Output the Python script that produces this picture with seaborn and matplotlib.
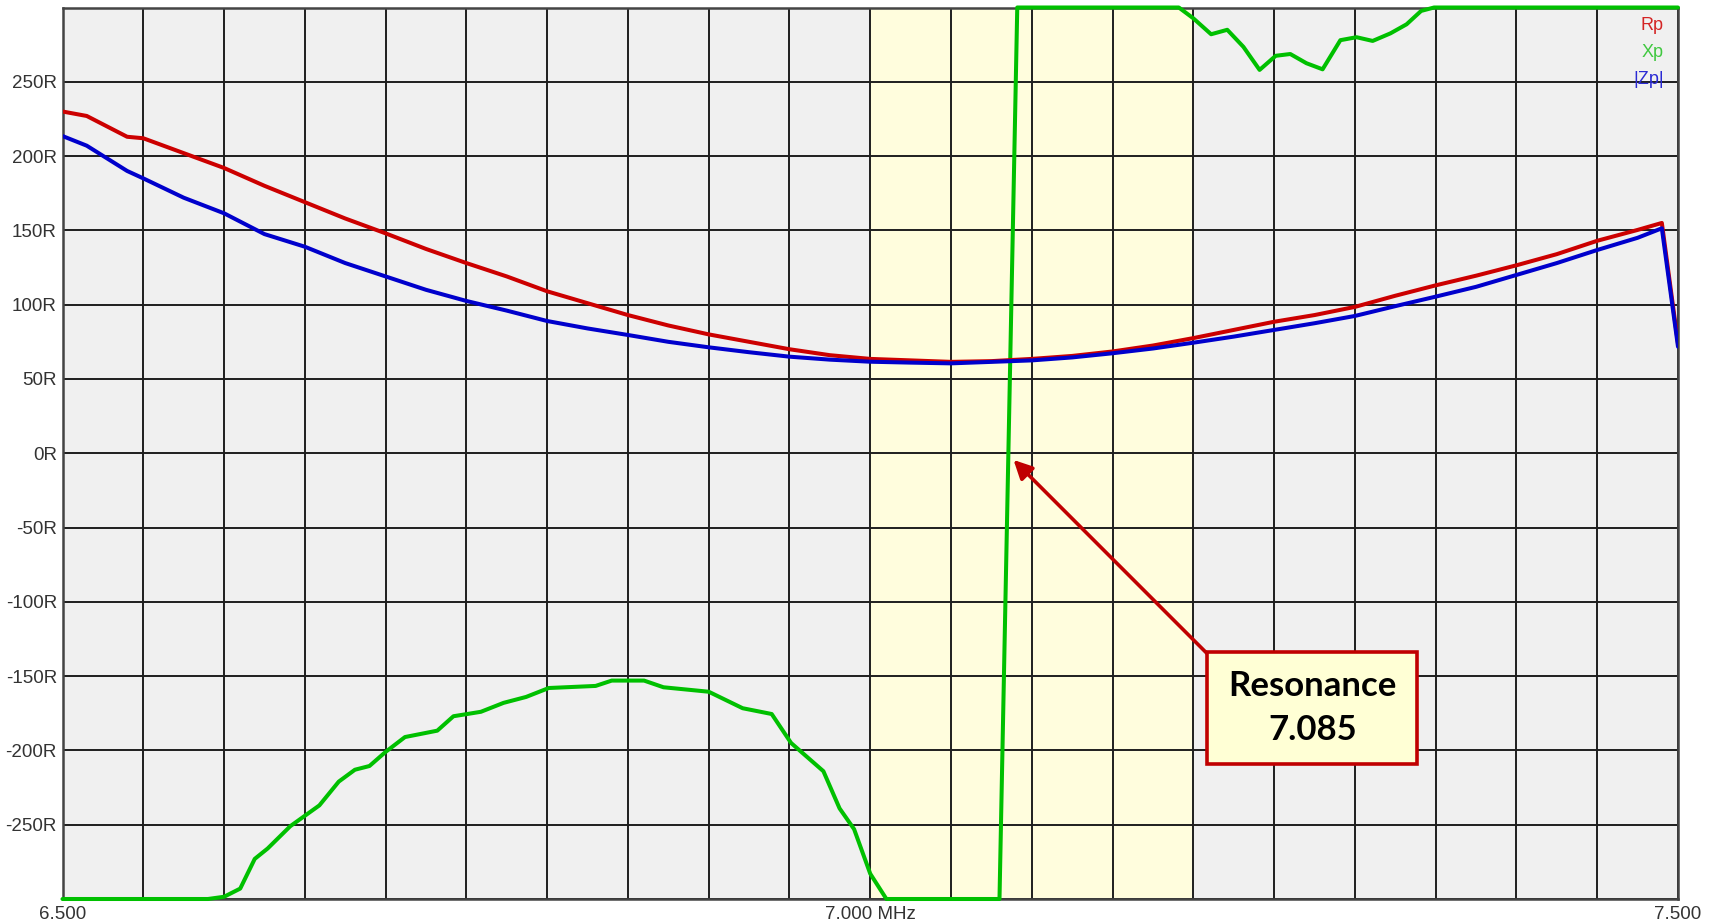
import numpy as np
import matplotlib
matplotlib.use("Agg")
import matplotlib.pyplot as plt
import seaborn as sns
from matplotlib.patches import Rectangle

# =========================
# DATA (read off the analyser sweep)
# =========================
# Rp and |Zp| share one frequency grid (MHz)
freq_rz = [6.500, 6.515, 6.540, 6.550, 6.575, 6.600, 6.625, 6.650, 6.675, 6.700, 6.725,
           6.750, 6.775, 6.800, 6.825, 6.850, 6.875, 6.900, 6.925, 6.950, 6.975,
           7.000, 7.025, 7.050, 7.075, 7.100, 7.125, 7.150, 7.175, 7.200, 7.225,
           7.250, 7.275, 7.300, 7.325, 7.350, 7.375, 7.400, 7.425, 7.450, 7.475,
           7.490, 7.500]
rp = [230, 227, 213, 212, 202, 192, 180, 169, 158, 148, 137.5,
      128, 119, 109, 101, 93, 86, 80, 75, 70, 66,
      63.5, 62.5, 61.5, 62, 63.5, 65.5, 68.5, 72.5, 77.5, 83,
      88.5, 93, 98.5, 106, 113, 119.5, 126.5, 134, 143, 150.3,
      155, 74]
zp = [213.5, 207, 190, 185, 172, 161.5, 147.5, 139, 128, 119, 110,
      102.5, 96, 89, 84, 79.6, 75, 71.3, 68, 65, 63,
      61.6, 61, 60.5, 61.5, 62.5, 64.5, 67.3, 70.5, 74.4, 78.5,
      83, 87.5, 92.4, 99, 105.4, 112, 120, 128, 136.8, 145,
      151.4, 71.7]

# Xp is clipped at the +/-300R scale limits
freq_x = [6.500, 6.590, 6.600, 6.610, 6.619, 6.627, 6.641, 6.659, 6.671, 6.681,
          6.690, 6.700, 6.712, 6.732, 6.742, 6.759, 6.773, 6.787, 6.801, 6.830,
          6.840, 6.860, 6.872, 6.900, 6.921, 6.939, 6.951, 6.971, 6.981, 6.990,
          7.000, 7.010, 7.080, 7.091, 7.191, 7.200, 7.211, 7.221, 7.231, 7.241,
          7.251, 7.260, 7.270, 7.280, 7.291, 7.301, 7.311, 7.322, 7.332, 7.341,
          7.349, 7.500]
xp = [-300, -300, -298.5, -293, -273, -266, -251, -237, -221, -213,
      -210.5, -201, -191, -186.7, -177, -174, -168, -164, -158, -156.6,
      -153, -153, -157.5, -160.5, -171.6, -175.5, -195, -214, -239, -253,
      -283, -300, -300, 300, 300, 292.7, 282, 285, 273.5, 258,
      267.5, 268.7, 262.5, 258.4, 278, 280, 277.5, 282.6, 288.7, 297.7,
      300, 300]

series_names = ["Rp", "Xp", "|Zp|"]
band = (7.0, 7.2)
resonance = 7.085

x_ticks = np.round(np.arange(6.5, 7.5001, 0.05), 3)
x_labels = {6.5: "6.500", 7.0: "7.000 MHz", 7.5: "7.500"}
y_ticks = np.arange(-300, 301, 50)

RED = "#CC0000"
GREEN = "#00C000"
BLUE = "#0000CC"
LEGEND_COLORS = ["#D42424", "#40C840", "#2A2AD4"]

# =========================
# Style
# =========================
sns.set_style("whitegrid", {
    "axes.facecolor": "#F0F0F0",
    "grid.color": "#222222",
    "axes.edgecolor": "#444444",
})
plt.rcParams["font.family"] = ["Liberation Sans", "DejaVu Sans"]

fig = plt.figure(figsize=(17.09, 9.23), dpi=100)
ax = fig.add_axes([62.5 / 1709, 1 - 899 / 923, 1615.5 / 1709, 891.5 / 923])

ax.axvspan(band[0], band[1], color="#FFFDDD", zorder=0.2, lw=0)

sns.lineplot(x=freq_x, y=xp, color=GREEN, lw=2.9, ax=ax, estimator=None,
             sort=False, clip_on=False, zorder=3)
sns.lineplot(x=freq_rz, y=rp, color=RED, lw=2.9, ax=ax, estimator=None,
             sort=False, zorder=4)
sns.lineplot(x=freq_rz, y=zp, color=BLUE, lw=2.9, ax=ax, estimator=None,
             sort=False, zorder=5)

ax.set_xlim(6.5, 7.5)
ax.set_ylim(-300, 300)
ax.set_xticks(x_ticks)
ax.set_xticklabels([x_labels.get(round(t, 3), "") for t in x_ticks])
ax.set_yticks(y_ticks)
ax.set_yticklabels(["" if abs(v) == 300 else f"{v}R" for v in y_ticks])
ax.tick_params(axis="both", length=0, labelsize=13.5, labelcolor="#333333")
ax.tick_params(axis="x", pad=5)
ax.tick_params(axis="y", pad=4)
ax.grid(True, lw=1.4, color="#1E1E1E")
ax.set_axisbelow(True)
for s in ax.spines.values():
    s.set_linewidth(1.8)
    s.set_color("#444444")
ax.set_xlabel("")
ax.set_ylabel("")

# legend as coloured labels in the top-right corner
for i, (name, col) in enumerate(zip(series_names, LEGEND_COLORS)):
    ax.text(0.9913, 0.980 - i * 0.0305, name, transform=ax.transAxes,
            ha="right", va="center", fontsize=13, color=col, zorder=6)

# resonance callout
ax.annotate("", xy=(7.0887, -4.5), xytext=(7.2087, -135),
            arrowprops=dict(arrowstyle="-|>", mutation_scale=28, lw=2.6,
                            color="#C00000", shrinkA=0, shrinkB=0),
            zorder=7)
ax.add_patch(Rectangle((7.2087, -209.1), 0.1298, 75.1, facecolor="#FFFFD5",
                       edgecolor="#C00000", lw=2.6, zorder=8))
ax.text(7.2736, -171.6, f"Resonance\n{resonance:.3f}", ha="center", va="center",
        fontsize=25, fontweight="bold", family=["Lato", "DejaVu Sans"],
        linespacing=1.45, color="black", zorder=9)

plt.savefig("out.png", dpi=100)
